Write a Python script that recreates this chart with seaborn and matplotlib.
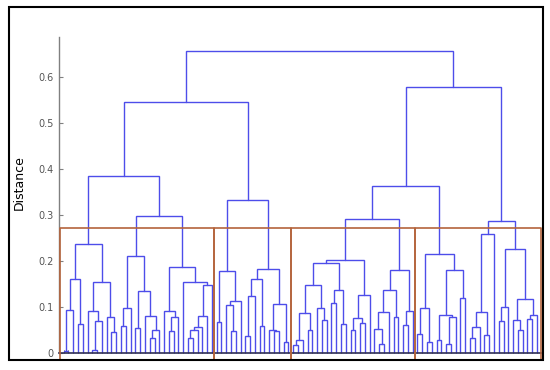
import matplotlib
matplotlib.use("Agg")
import matplotlib.pyplot as plt
import seaborn as sns
from matplotlib.patches import Rectangle

# leaf marker; internal node = (merge height, left, right)
L = 0

# group 1 (first red box)
grp1_a = (0.236,
          (0.160, (0.093, (0.005, L, L), L), (0.062, L, L)),
          (0.154, (0.092, L, (0.069, (0.007, L, L), L)), (0.079, L, (0.046, L, L))))
grp1_b = (0.297,
          (0.211, (0.097, (0.058, L, L), L),
                  (0.134, (0.055, L, L), (0.080, L, (0.051, (0.033, L, L), L)))),
          (0.187, (0.092, L, (0.078, (0.047, L, L), L)),
                  (0.154, L, (0.147, (0.080, (0.057, (0.050, (0.033, L, L), L), L), L), L))))

# group 2
grp2 = (0.332,
        (0.178, (0.068, L, L), (0.113, (0.105, L, (0.048, L, L)), L)),
        (0.182, (0.161, (0.124, (0.038, L, L), L), (0.059, L, L)),
                (0.106, (0.051, L, (0.048, L, L)), (0.025, L, L))))

# group 3
grp3 = (0.292,
        (0.203,
         (0.196,
          (0.147, (0.086, (0.028, (0.017, L, L), L), (0.050, L, L)), (0.097, L, (0.071, L, L))),
          (0.138, (0.109, L, L), (0.062, L, L))),
         (0.126, (0.076, (0.050, L, L), (0.065, L, L)), L)),
        (0.180,
         (0.137, (0.089, (0.053, L, (0.019, L, L)), L), (0.078, L, L)),
         (0.092, (0.060, L, L), L)))

# group 4
grp4_a = (0.216,
          (0.097, (0.042, L, L), (0.025, L, L)),
          (0.180, (0.082, (0.028, L, L), (0.078, (0.019, L, L), L)), (0.120, L, L)))
grp4_b = (0.288,
          (0.259, (0.089, (0.057, (0.033, L, L), L), (0.040, L, L)), L),
          (0.226, (0.100, (0.069, L, L), L),
                  (0.117, (0.071, L, (0.051, L, L)), (0.082, (0.073, L, L), L))))

# upper merges
tree = (0.657,
        (0.546, (0.385, grp1_a, grp1_b), grp2),
        (0.578, (0.363, grp3, grp4_a), grp4_b))

cluster_sizes = [32, 16, 26, 26]
cutoff = 0.272
yticks = [0, 0.1, 0.2, 0.3, 0.4, 0.5, 0.6]
ytick_labels = ["0", "0.1", "0.2", "0.3", "0.4", "0.5", "0.6"]


def layout(node, count, segs):
    # leaves get x = 1, 2, 3, ... in order
    if not isinstance(node, tuple):
        count[0] += 1
        return count[0], 0.0
    h, left, right = node
    xa, ha = layout(left, count, segs)
    xb, hb = layout(right, count, segs)
    segs.append(([xa, xa, xb, xb], [ha, h, h, hb]))
    return (xa + xb) / 2, h


segs = []
count = [0]
layout(tree, count, segs)
n_leaves = count[0]

sns.set_theme(style="white")
plt.rcParams["font.family"] = ["DejaVu Sans"]

fig = plt.figure(figsize=(5.5, 3.7), dpi=100)
fig.patch.set_facecolor("white")
ax = fig.add_axes([59 / 550, 17 / 370, 482 / 550, 316 / 370])

for xs, ys in segs:
    ax.plot(xs, ys, color="#4d4dea", lw=1.0, solid_joinstyle="miter")

# red boxes round the four groups
edges = [0.25]
for s in cluster_sizes:
    edges.append(edges[-1] + s)
edges = [0.25] + [e + 0.25 for e in edges[1:-1]] + [n_leaves + 0.75]
for x0, x1 in zip(edges[:-1], edges[1:]):
    ax.plot([x0, x0, x1, x1], [-0.016, cutoff, cutoff, -0.016],
            color="#b4643c", lw=1.2, clip_on=False, zorder=3)

ax.set_xlim(0.02, n_leaves + 0.84)
ax.set_ylim(0, 0.687)
ax.set_yticks(yticks)
ax.set_yticklabels(ytick_labels)
ax.set_xticks(range(1, n_leaves + 1))
ax.set_xticklabels([])

sns.despine(ax=ax, top=True, right=True)
ax.spines["left"].set_color("#808080")
ax.spines["left"].set_linewidth(1.0)
ax.spines["bottom"].set_color("#2e2e55")
ax.spines["bottom"].set_linewidth(1.2)
ax.tick_params(axis="y", direction="in", length=3, width=0.8, color="#808080",
               labelcolor="#555555", labelsize=7, pad=4, left=True)
ax.tick_params(axis="x", direction="in", length=2, width=0.6, color="#2e2e55",
               bottom=True)

ax.set_ylabel("Distance", fontsize=9, color="black")
ax.yaxis.set_label_coords(-0.07, 0.54)

# outer frame of the figure
fig.patches.append(Rectangle((9 / 550, 10 / 370), 534 / 550, 353 / 370,
                             transform=fig.transFigure, fill=False,
                             edgecolor="black", lw=1.5))

fig.savefig("out.png", dpi=100)
